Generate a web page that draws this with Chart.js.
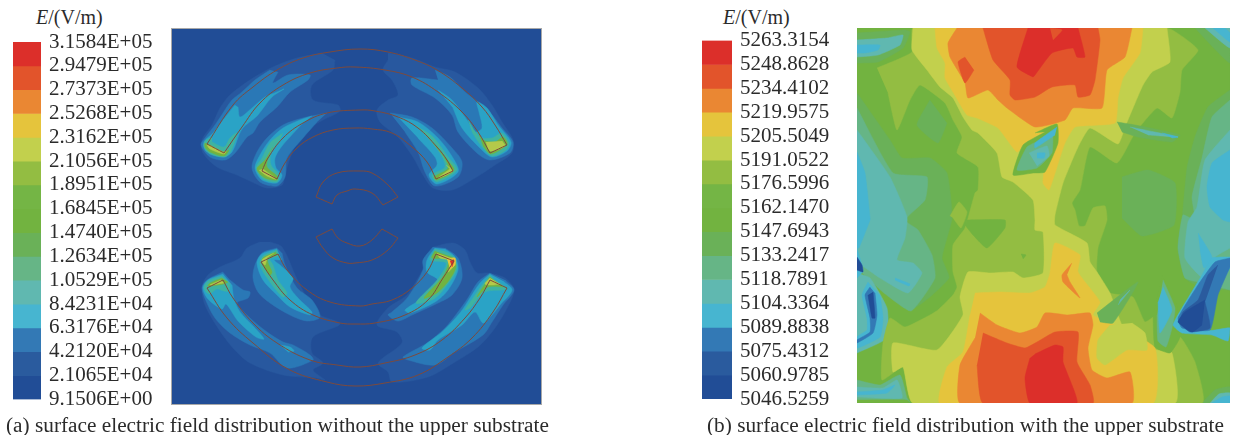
<!DOCTYPE html>
<html>
<head>
<meta charset="utf-8">
<script src="https://cdn.jsdelivr.net/npm/chart.js@4"></script>
<style>
  html, body { margin: 0; padding: 0; background: #fff; }
  body { width: 1235px; height: 435px; position: relative; overflow: hidden; font-family: "Liberation Serif", serif; color: #2b2b2b; }
  canvas { position: absolute; }
  #fieldA { left: 172px; top: 29px; outline: 1px solid #a8a8a8; filter: blur(0.4px); }
  #fieldB { left: 857px; top: 28px; filter: blur(0.4px); }
  #barA { left: 0; top: 20px; }
  #barB { left: 680px; top: 20px; }
  .unit { position: absolute; top: 5px; font-size: 20px; line-height: 24px; }
  .caption { position: absolute; top: 414px; font-size: 21.3px; line-height: 22px; white-space: nowrap; }
</style>
</head>
<body>
<div class="unit" style="left:36px"><i>E</i>/(V/m)</div>
<div class="unit" style="left:723px"><i>E</i>/(V/m)</div>
<canvas id="barA" width="170" height="400"></canvas>
<canvas id="fieldA" width="369" height="375"></canvas>
<canvas id="barB" width="176" height="400"></canvas>
<canvas id="fieldB" width="373" height="375"></canvas>
<div class="caption" style="left:6px">(a) surface electric field distribution without the upper substrate</div>
<div class="caption" style="left:707px">(b) surface electric field distribution with the upper substrate</div>
<script>
// legend levels, top to bottom
const ticksA = ["3.1584E+05", "2.9479E+05", "2.7373E+05", "2.5268E+05", "2.3162E+05", "2.1056E+05", "1.8951E+05", "1.6845E+05",
  "1.4740E+05", "1.2634E+05", "1.0529E+05", "8.4231E+04", "6.3176E+04", "4.2120E+04", "2.1065E+04", "9.1506E+00"];
const ticksB = ["5263.3154", "5248.8628", "5234.4102", "5219.9575", "5205.5049", "5191.0522", "5176.5996", "5162.1470",
  "5147.6943", "5133.2417", "5118.7891", "5104.3364", "5089.8838", "5075.4312", "5060.9785", "5046.5259"];
// band colours, lowest band first
const bandColors = ["#214d96", "#2a5b9e", "#3379b5", "#47b5d0", "#60b8b0", "#66b586", "#6ab158", "#72b340",
  "#74b545", "#93bd42", "#c2d04d", "#e5c43c", "#ea8733", "#e2542b", "#dc2f2a"];
// the fine mesh of field (a) reads a bit deeper than its legend
const fieldAColors = ["#214d96", "#28589f", "#2a78b6", "#2aa3c6", "#3fb3a0", "#66b586", "#6ab158", "#72b340",
  "#74b545", "#93bd42", "#b4c94a", "#e5c43c", "#ea8733", "#e2542b", "#dc2f2a"];
const ringColor = "#7d4a3c";

// field (a): conductor outlines, a doubled point keeps the corner sharp
const ringOuterTop = [[35,115],[61,76],[81,58],[105,41],[131,29],[158,23],[188,20],[216,23],[243,31],[265,41],[290,59],[310,78],[323,96],[335,116],[335,116],[318,124],[318,124],[306,103],[290,83],[266,63],[240,48],[213,41],[183,38],[165,39],[138,44],[111,56],[88,74],[70,98],[52,124],[52,124]];
const ringMiddleTop = [[90,142],[96,129],[111,109],[131,94],[155,84],[188,81],[203,82],[226,88],[246,99],[265,118],[275,131],[281,142],[281,142],[264,150],[264,150],[255,133],[240,118],[220,104],[200,100],[183,99],[161,101],[141,108],[125,119],[113,134],[105,150],[105,150]];
const ringInnerTop = [[144,168],[151,153],[165,144],[188,142],[200,144],[216,156],[226,168],[226,168],[211,176],[211,176],[200,164],[183,160],[175,162],[165,166],[160,175],[160,175]];
const ringInnerBottom = [[144,208],[160,200],[160,200],[166,209],[175,214],[188,217],[200,211],[210,200],[210,200],[226,209],[226,209],[216,221],[200,231],[183,234],[175,234],[161,229],[151,219]];
const ringMiddleBottom = [[89,233],[106,225],[106,225],[115,241],[135,261],[158,273],[188,277],[200,275],[220,271],[240,259],[255,243],[264,225],[264,225],[282,232],[282,232],[271,249],[256,271],[233,286],[203,294],[183,295],[168,294],[141,286],[118,271],[101,251]];
const ringOuterBottom = [[35,259],[51,251],[51,251],[61,269],[81,294],[105,314],[138,331],[165,336],[188,338],[213,334],[243,326],[270,311],[293,289],[308,269],[318,251],[318,251],[335,259],[335,259],[321,283],[300,309],[276,328],[246,346],[213,354],[183,357],[155,353],[116,340],[81,314],[55,289]];
const ringsA = [ringOuterTop, ringMiddleTop, ringInnerTop, ringInnerBottom, ringMiddleBottom, ringOuterBottom];

// field (a): contour bands of the four corners
const haloNW = [[150,24],[125,29],[101,38],[78,51],[58,66],[48,79],[40,96],[30,111],[31,124],[45,138],[65,146],[80,153],[95,159],[110,156],[113,146],[118,129],[125,113],[138,99],[151,91],[168,82],[166,76],[141,71],[140,56],[161,41],[163,31]];
const blueNW1 = [[98,41],[83,51],[70,63],[60,71],[51,84],[43,96],[33,109],[29,116],[38,128],[53,131],[63,124],[75,108],[81,104],[88,93],[105,78],[118,63],[136,51],[138,46],[116,46],[101,54],[106,43]];
const cyanNW1 = [[63,76],[51,91],[41,104],[32,113],[34,122],[51,128],[60,123],[70,100],[85,87],[100,68],[112,60],[105,63],[93,68],[80,79],[68,88],[66,78]];
const tealNW1 = [[40,108],[33,112],[32,118],[38,125],[53,128],[59,122],[65,104],[58,109],[52,118],[40,113]];
const greenNW1 = [[33,114],[33,118],[38,123],[52,127],[57,121],[52,123],[36,115]];
const limeNW1 = [[35,116],[38,120],[52,125],[54,122],[51,123],[37,116]];
const blueNW2 = [[155,84],[131,89],[111,96],[95,109],[85,123],[80,139],[88,153],[105,157],[113,148],[115,129],[131,109],[145,93]];
const cyanNW2 = [[140,87],[128,91],[111,99],[98,111],[88,126],[83,139],[90,151],[105,154],[110,146],[104,139],[103,129],[110,117],[128,97]];
const tealNW2 = [[111,104],[98,114],[90,129],[84,139],[91,150],[105,153],[107,146],[99,136],[99,124],[107,113]];
const greenNW2 = [[101,118],[93,131],[85,140],[93,149],[105,151],[105,147],[95,138],[96,128]];
const limeNW2 = [[87,141],[95,147],[104,150],[91,140]];

const haloNE = [[216,24],[240,29],[263,38],[283,43],[306,59],[320,76],[330,93],[341,111],[340,124],[323,136],[303,149],[280,161],[261,159],[251,146],[241,128],[226,108],[208,93],[205,81],[216,71],[226,66],[220,51],[211,41],[216,31]];
const blueNE1 = [[263,41],[278,48],[293,63],[310,76],[320,86],[330,99],[341,113],[338,124],[318,131],[305,124],[286,103],[280,86],[263,69],[240,56],[240,49],[266,51]];
const cyanNE1 = [[266,61],[280,71],[295,91],[303,103],[310,99],[307,83],[305,73],[315,79],[326,96],[339,113],[335,122],[320,128],[309,120],[290,99],[281,79]];
const tealNE1 = [[296,91],[308,108],[320,109],[330,104],[337,114],[334,121],[320,127],[310,118],[300,103]];
const greenNE1 = [[306,103],[311,111],[323,113],[331,108],[335,115],[319,125],[311,117]];
const limeNE1 = [[314,113],[318,122],[333,117],[330,112]];
const blueNE2 = [[218,84],[240,88],[260,99],[280,119],[290,133],[286,148],[263,157],[253,143],[246,123],[233,103]];
const cyanNE2 = [[226,88],[246,93],[266,109],[281,129],[286,143],[265,155],[257,146],[265,136],[263,128],[246,109]];
const tealNE2 = [[243,96],[261,108],[276,128],[285,141],[265,153],[260,146],[273,138],[268,124],[255,108]];
const greenNE2 = [[261,114],[273,129],[282,141],[265,151],[262,148],[276,139],[270,124]];
const limeNE2 = [[274,136],[281,142],[266,149],[278,140]];

const haloSW = [[88,213],[75,219],[68,229],[48,238],[36,246],[30,258],[33,276],[46,299],[61,319],[78,334],[111,346],[145,349],[153,351],[141,341],[151,334],[140,324],[141,308],[168,295],[148,286],[138,274],[125,250],[110,218],[98,213]];
const blueSW1 = [[51,243],[35,251],[30,259],[35,274],[43,289],[58,304],[78,316],[98,324],[115,339],[141,331],[138,326],[121,316],[111,313],[95,303],[78,289],[65,274],[76,269],[78,263],[71,261],[58,251]];
const cyanSW1 = [[51,245],[36,251],[31,259],[36,270],[50,280],[54,275],[66,292],[84,308],[92,310],[82,298],[68,283],[62,270],[60,256]];
const cyanSW1b = [[108,316],[118,318],[122,322],[116,323]];
const tealSW1 = [[50,247],[36,252],[32,259],[37,265],[45,260],[52,262],[57,262],[58,254]];
const greenSW1 = [[50,249],[38,254],[36,257],[52,255],[56,253]];
const limeSW1 = [[49,251],[38,256],[52,254]];
const blueSW2 = [[105,219],[90,224],[83,236],[81,249],[86,263],[98,274],[118,286],[135,292],[148,288],[140,271],[125,259],[113,236],[110,224]];
const cyanSW2 = [[105,220],[90,225],[85,234],[91,251],[105,266],[118,278],[138,286],[140,283],[126,269],[118,258],[121,249],[108,236],[102,231],[110,231]];
const tealSW2 = [[105,221],[91,227],[88,236],[98,253],[111,268],[115,264],[106,251],[101,236],[98,230],[107,227]];
const greenSW2 = [[104,223],[91,229],[91,236],[98,246],[100,243],[96,234],[96,229],[105,226]];
const limeSW2 = [[102,224],[90,231],[93,236],[95,229]];

const haloSE = [[261,218],[281,214],[293,221],[298,233],[305,244],[316,244],[333,249],[342,261],[333,283],[320,303],[306,318],[283,333],[256,348],[220,353],[216,343],[206,334],[230,314],[225,303],[205,296],[216,279],[235,266],[246,249],[255,233]];
const blueSE1 = [[318,244],[306,253],[296,269],[286,283],[273,299],[255,314],[231,328],[236,331],[263,336],[283,323],[311,306],[320,293],[331,276],[342,261],[333,251]];
const cyanSE1 = [[318,245],[308,254],[298,269],[288,284],[270,303],[250,319],[258,321],[266,311],[290,296],[303,283],[311,294],[320,286],[328,276],[340,261],[331,252]];
const tealSE1 = [[318,246],[310,256],[301,269],[293,281],[298,279],[313,263],[335,260],[323,251]];
const greenSE1 = [[318,248],[311,258],[305,268],[316,258],[331,258]];
const limeSE1 = [[318,249],[313,255],[320,256],[328,255]];
const blueSE2 = [[261,218],[251,231],[251,241],[236,268],[220,283],[216,286],[226,292],[240,286],[266,274],[280,266],[290,249],[286,229],[273,219]];
const cyanSE2 = [[263,219],[255,231],[255,243],[266,251],[261,261],[248,271],[233,281],[238,284],[263,273],[276,261],[286,241],[283,228],[273,220]];
const tealSE2 = [[263,220],[258,231],[274,234],[266,250],[244,274],[262,270],[276,255],[285,240],[282,228],[272,222]];
const greenSE2 = [[263,222],[260,229],[276,230],[272,246],[252,269],[265,264],[278,250],[284,237],[280,228]];
const limeSE2 = [[265,224],[268,229],[280,232],[276,243],[282,236],[279,229]];
const yellowSE2 = [[275,230],[283,229],[283,236],[278,240]];
const redSE2 = [[278,232],[282,231],[280,238]];

// polygon + band index, painted in this order
const layersA = [
  [haloNW,1],[haloNE,1],[haloSW,1],[haloSE,1],
  [blueNW1,2],[cyanNW1,3],[tealNW1,4],[greenNW1,7],[limeNW1,10],
  [blueNW2,2],[cyanNW2,3],[tealNW2,4],[greenNW2,7],[limeNW2,10],
  [blueNE1,2],[cyanNE1,3],[tealNE1,4],[greenNE1,7],[limeNE1,10],
  [blueNE2,2],[cyanNE2,3],[tealNE2,4],[greenNE2,7],[limeNE2,10],
  [blueSW1,2],[cyanSW1,3],[cyanSW1b,3],[tealSW1,4],[greenSW1,7],[limeSW1,10],
  [blueSW2,2],[cyanSW2,3],[tealSW2,4],[greenSW2,7],[limeSW2,10],
  [blueSE1,2],[cyanSE1,3],[tealSE1,4],[greenSE1,7],[limeSE1,10],
  [blueSE2,2],[cyanSE2,3],[tealSE2,4],[greenSE2,7],[limeSE2,10],[yellowSE2,11],[redSE2,14]
];

// field (b): contour bands
const cornerTL6 = [[0,5],[48,2],[53,4],[46,20],[21,34],[0,35]];
const cornerTL4 = [[0,12],[30,10],[46,7],[43,17],[21,27],[0,29]];
const cornerTL3 = [[0,17],[23,17],[21,22],[8,25],[0,25]];
const rightPatch6 = [[265,149],[291,142],[318,155],[317,197],[285,208],[265,190]];
const leftBand6 = [[0,65],[33,112],[45,130],[73,130],[90,145],[95,190],[85,230],[92,250],[56,280],[0,240]];
const leftBand5 = [[0,80],[36,145],[70,149],[68,172],[48,192],[61,202],[75,227],[78,250],[54,283],[27,265],[16,255],[0,240]];
const leftBand4 = [[0,102],[33,149],[50,189],[48,210],[40,232],[56,235],[65,245],[51,265],[23,250],[0,234]];
const leftBand3 = [[0,124],[8,145],[13,189],[13,192],[2,220],[0,220]];
const leftSliver3 = [[38,250],[53,256],[52,258],[38,252]];
const lowerLeft4 = [[0,245],[13,250],[30,280],[30,310],[0,325]];
const lowerLeft3 = [[11,254],[5,267],[10,290],[10,302],[0,309],[0,320],[23,309],[26,290],[23,267]];
const lowerLeft2 = [[13,259],[8,267],[13,290],[13,304],[0,312],[0,315],[16,305],[20,287],[18,265]];
const lowerLeft0 = [[11,267],[15,290],[18,290],[16,264]];
const notch3 = [[0,220],[6,243],[0,250]];
const notch0 = [[0,229],[5,237],[6,244],[0,242]];
const star5 = [[0,352],[23,357],[43,347],[50,370],[53,375],[0,375]];
const star4 = [[0,359],[26,360],[40,352],[45,370],[0,369]];
const star3 = [[0,364],[26,362],[38,357],[30,365],[0,367]];
const star7 = [[0,372],[50,372],[53,375],[0,375]];
const rightBand6 = [[373,62],[351,79],[338,109],[330,140],[325,192],[321,220],[328,250],[345,260],[373,262]];
const rightBand5 = [[373,72],[355,89],[345,130],[335,169],[338,192],[326,187],[321,220],[328,250],[345,255],[373,262]];
const rightBand4 = [[373,102],[348,132],[340,179],[331,194],[328,230],[345,249],[358,229],[373,220]];
const rightBand3 = [[373,122],[355,135],[350,159],[353,179],[366,192],[373,194]];
const rightSliver3 = [[341,205],[355,229],[347,240],[343,222]];
const cornerTR6 = [[338,0],[373,35],[373,0]];
const cornerTR4 = [[348,0],[373,20],[373,0]];
const cornerTR3 = [[356,0],[373,14],[373,5],[368,0]];
const cornerBR6 = [[345,375],[358,362],[373,359],[373,375]];
const cornerBR4 = [[353,375],[362,366],[373,365],[373,375]];
const cornerBR3 = [[355,375],[365,369],[373,368],[373,375]];
const centerLight = [[20,40],[55,24],[56,0],[310,0],[341,22],[325,42],[323,64],[315,90],[300,80],[278,105],[260,135],[233,119],[223,162],[215,175],[218,182],[222,198],[228,198],[236,180],[248,178],[250,192],[241,220],[240,244],[253,265],[276,269],[288,294],[300,287],[300,320],[313,325],[323,309],[338,334],[345,375],[56,375],[46,339],[25,352],[26,315],[33,290],[48,299],[73,287],[81,282],[96,267],[100,259],[96,244],[96,217],[108,200],[118,165],[121,162],[121,139],[100,125],[105,109],[96,92],[88,75],[63,57],[53,72],[40,102],[31,65]];
const wedge6 = [[73,72],[60,97],[81,115],[90,95]];
const spot9 = [[93,188],[102,174],[110,184],[104,200],[96,190]];
const island7 = [[110,192],[148,192],[148,200],[130,220],[116,207],[108,197]];
const tinySpot7 = [[164,226],[169,227],[166,231]];
const centerLime = [[56,0],[55,22],[70,42],[83,59],[96,70],[106,89],[115,102],[121,105],[140,125],[145,149],[156,154],[176,172],[178,192],[178,202],[186,204],[186,245],[166,250],[156,244],[133,245],[111,244],[103,269],[106,287],[80,322],[36,315],[36,344],[46,339],[56,375],[318,375],[315,325],[300,322],[282,315],[265,297],[253,265],[240,244],[233,234],[230,215],[198,197],[198,187],[206,155],[221,119],[233,100],[261,116],[268,99],[276,80],[286,57],[295,44],[313,34],[310,0]];
const yellowTop = [[78,0],[80,20],[88,35],[88,50],[96,64],[110,87],[120,90],[141,100],[160,124],[170,115],[188,125],[186,155],[192,162],[200,139],[208,115],[218,99],[258,95],[261,70],[266,50],[283,25],[286,0]];
const orangeTop = [[100,0],[91,15],[93,29],[108,55],[111,70],[131,62],[141,72],[150,80],[178,99],[208,92],[216,80],[245,80],[250,42],[268,29],[275,0]];
const vermilionTop = [[126,0],[136,32],[153,52],[153,67],[158,72],[178,69],[195,59],[218,57],[221,69],[233,67],[238,52],[243,12],[241,0]];
const vermilionSpot = [[108,29],[101,34],[108,55],[117,42]];
const redTop = [[171,0],[160,39],[176,49],[178,47],[195,25],[216,20],[220,29],[228,29],[221,0]];
const redNotch = [[193,0],[205,2],[196,12]];
const yellowBottom = [[118,265],[143,264],[173,265],[188,259],[193,245],[198,215],[223,227],[221,244],[243,274],[236,287],[258,297],[298,320],[296,375],[83,375],[90,339],[106,324],[113,287]];
const limeBlob = [[253,297],[241,312],[240,330],[248,337],[270,322],[290,322],[288,305],[275,295]];
const orangeBottom = [[123,285],[140,297],[163,305],[180,299],[188,285],[211,287],[233,285],[236,297],[231,320],[235,342],[250,350],[273,344],[275,375],[103,375],[103,337],[118,310]];
const orangeSliver = [[215,235],[205,247],[206,254],[223,270],[213,254],[210,247]];
const vermilionBottom = [[126,305],[150,315],[168,320],[180,314],[198,304],[221,304],[220,334],[233,357],[236,375],[126,375],[120,337]];
const redBottom = [[178,326],[198,317],[206,319],[206,334],[220,375],[173,375],[168,350],[173,330]];
const bladeC7 = [[188,104],[166,117],[156,147],[176,145],[188,144],[201,115],[200,96],[178,105]];
const bladeC5 = [[188,110],[170,119],[160,142],[180,140],[195,125],[196,105]];
const bladeC4 = [[172,125],[190,118],[192,128],[180,138]];
const bladeC3 = [[200,99],[178,115],[178,120],[198,107]];
const bladeC3b = [[180,125],[188,125],[187,130],[180,130]];
const bladeRight6 = [[260,94],[278,97],[323,107],[315,114],[281,109],[265,104]];
const bladeRight4 = [[273,99],[321,109],[291,107]];
const bladeRight3 = [[305,105],[321,109],[315,110]];
const bladeLow7 = [[240,285],[281,254],[256,295],[243,294]];
const bladeLow4 = [[263,272],[273,262],[261,277]];
const bladeSide7 = [[305,247],[321,280],[316,297],[323,309],[313,325],[298,319],[296,287]];
const bladeSide5 = [[306,252],[318,280],[315,300],[309,319],[301,313],[300,287]];
const bladeSide3 = [[306,259],[315,282],[303,305],[301,274]];
const diamond3 = [[373,229],[355,230],[345,247],[325,280],[316,297],[325,305],[355,307],[371,313],[373,300],[352,302],[361,260],[373,240]];
const diamond2 = [[373,230],[358,234],[341,257],[321,290],[325,300],[353,302],[361,267],[373,239]];
const diamond1 = [[361,237],[351,247],[341,272],[326,284],[323,295],[333,304],[353,300],[348,274]];
const diamond0 = [[348,272],[328,284],[321,294],[335,304],[345,297]];

const layersB = [
  [cornerTL6,6],[cornerTL4,4],[cornerTL3,3],
  [rightPatch6,6],[leftBand6,6],[leftBand5,5],[leftBand4,4],[leftBand3,3],[leftSliver3,3],
  [lowerLeft4,4],[lowerLeft3,3],[lowerLeft2,2],[lowerLeft0,0],[notch3,3],[notch0,0],
  [star5,5],[star4,4],[star3,3],[star7,7],
  [rightBand6,6],[rightBand5,5],[rightBand4,4],[rightBand3,3],[rightSliver3,3],
  [cornerTR6,6],[cornerTR4,4],[cornerTR3,3],[cornerBR6,6],[cornerBR4,4],[cornerBR3,3],
  [centerLight,9],[wedge6,6],[spot9,9],[island7,7],[tinySpot7,7],
  [centerLime,10],
  [yellowTop,11],[orangeTop,12],[vermilionTop,13],[vermilionSpot,13],[redTop,14],[redNotch,13],
  [yellowBottom,11],[limeBlob,10],[orangeBottom,12],[orangeSliver,12],[vermilionBottom,13],[redBottom,14],
  [bladeC7,7],[bladeC5,5],[bladeC4,4],[bladeC3,3],[bladeC3b,3],
  [bladeRight6,6],[bladeRight4,4],[bladeRight3,3],
  [bladeLow7,6],[bladeLow4,4],
  [bladeSide7,7],[bladeSide5,5],[bladeSide3,3],
  [diamond3,3],[diamond2,2],[diamond1,1],[diamond0,0]
];

Chart.defaults.font.family = "'Liberation Serif', serif";
Chart.defaults.animation = false;

function polygon(points, color, smooth) {
  return {
    data: points.map(p => ({ x: p[0], y: p[1] })),
    showLine: true,
    fill: "shape",
    backgroundColor: color,
    borderColor: color,
    borderWidth: 0.5,
    pointRadius: 0,
    tension: smooth
  };
}

function ring(points) {
  return {
    data: points.concat([points[0]]).map(p => ({ x: p[0], y: p[1] })),
    showLine: true,
    fill: false,
    borderColor: ringColor,
    borderWidth: 1,
    pointRadius: 0,
    tension: 0.4
  };
}

function drawField(id, w, h, base, layers, rings, smooth, colors) {
  const sets = [polygon([[0,0],[w,0],[w,h],[0,h]], colors[base], 0)];
  layers.forEach(l => sets.push(polygon(l[0], colors[l[1]], smooth)));
  rings.forEach(r => sets.push(ring(r)));
  // chart.js paints the first dataset last, so push order up
  sets.forEach((s, i) => { s.order = -i; });
  new Chart(document.getElementById(id), {
    type: "scatter",
    data: { datasets: sets },
    options: {
      responsive: false,
      events: [],
      plugins: { legend: { display: false }, tooltip: { enabled: false } },
      scales: {
        x: { type: "linear", display: false, min: 0, max: w },
        y: { type: "linear", display: false, min: 0, max: h, reverse: true }
      }
    }
  });
}

function drawLegend(id, ticks, left, top, bottom, plotRight) {
  const values = ticks.map(Number);
  const sets = [];
  for (let i = 0; i < values.length - 1; i++) {
    sets.push({
      data: [[values[i + 1], values[i]]],
      backgroundColor: bandColors[values.length - 2 - i],
      barPercentage: 1,
      categoryPercentage: 1
    });
  }
  const el = document.getElementById(id);
  new Chart(el, {
    type: "bar",
    data: { labels: ["E"], datasets: sets },
    options: {
      responsive: false,
      events: [],
      layout: { padding: { left: left, top: top, bottom: bottom, right: 0 } },
      plugins: { legend: { display: false }, tooltip: { enabled: false } },
      scales: {
        x: { display: false, stacked: true },
        y: {
          position: "right",
          min: values[values.length - 1],
          max: values[0],
          grid: { display: false, drawTicks: false },
          border: { display: false },
          afterFit: axis => { axis.width = el.width - plotRight; },
          afterBuildTicks: axis => { axis.ticks = values.map(v => ({ value: v })); },
          ticks: {
            autoSkip: false,
            padding: 8,
            color: "#2b2b2b",
            font: { size: 21 },
            callback: (v, i) => ticks[i]
          }
        }
      }
    }
  });
}

drawLegend("barA", ticksA, 13, 22, 19, 41);
drawLegend("barB", ticksB, 22, 17, 21, 52);
drawField("fieldA", 369, 375, 0, layersA, ringsA, 0.3, fieldAColors);
drawField("fieldB", 373, 375, 7, layersB, [], 0.15, bandColors);
</script>
</body>
</html>
